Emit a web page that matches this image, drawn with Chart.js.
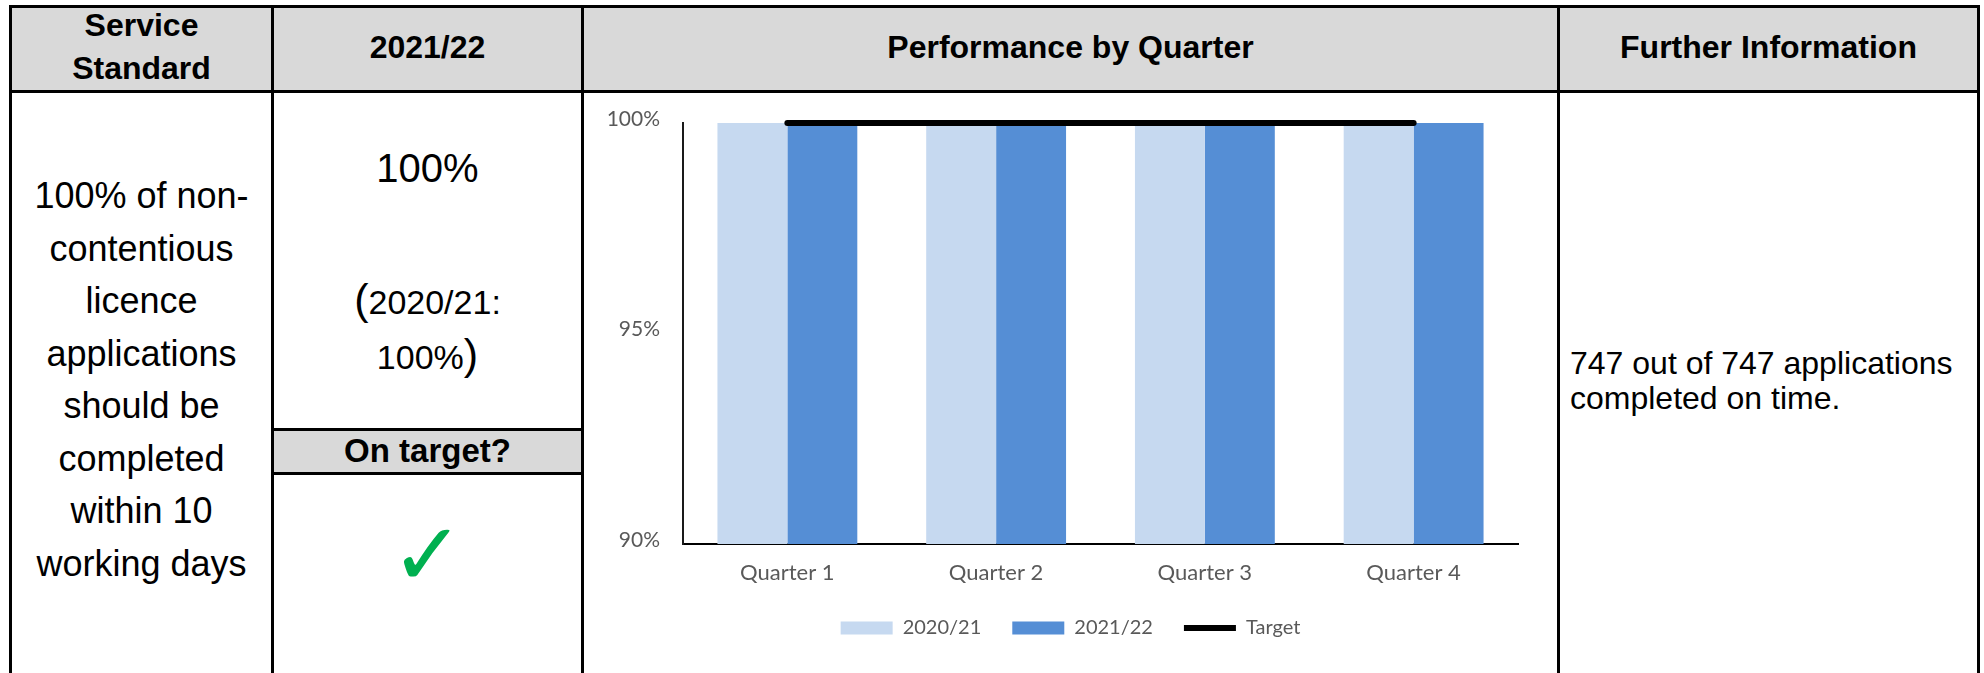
<!DOCTYPE html>
<html>
<head>
<meta charset="utf-8">
<script src="https://cdn.jsdelivr.net/npm/chart.js@4.4.1/dist/chart.umd.min.js"></script>
<style>
  html, body { margin:0; padding:0; background:#fff; width:1984px; height:673px; overflow:hidden;
    font-family:"Liberation Sans", Arial, sans-serif; color:#000; }
  .box  { position:absolute; }
  .hd   { background:#d9d9d9; }
  .ln   { position:absolute; background:#000; }
  .txt  { position:absolute; text-align:center; white-space:nowrap; }
  .bold { font-weight:bold; }
  .par  { font-size:43px; }
</style>
</head>
<body>

<!-- header band + "On target?" band -->
<div class="box hd" style="left:10px;top:7px;width:1968px;height:84px"></div>
<div class="box hd" style="left:272px;top:429px;width:310px;height:45px"></div>

<!-- table rules -->
<div class="ln" style="left:9px;top:5px;width:1971px;height:3px"></div>
<div class="ln" style="left:9px;top:90px;width:1971px;height:3px"></div>
<div class="ln" style="left:9px;top:5px;width:3px;height:668px"></div>
<div class="ln" style="left:271px;top:5px;width:3px;height:668px"></div>
<div class="ln" style="left:581px;top:5px;width:3px;height:668px"></div>
<div class="ln" style="left:1557px;top:5px;width:3px;height:668px"></div>
<div class="ln" style="left:1977px;top:5px;width:3px;height:668px"></div>
<div class="ln" style="left:271px;top:428px;width:312px;height:3px"></div>
<div class="ln" style="left:271px;top:472px;width:312px;height:3px"></div>

<!-- header texts -->
<div class="txt bold" style="left:12px;width:259px;top:4px;font-size:32px;line-height:43px">Service<br>Standard</div>
<div class="txt bold" style="left:274px;width:307px;top:27px;font-size:32px;line-height:40px">2021/22</div>
<div class="txt bold" style="left:584px;width:973px;top:27px;font-size:32px;line-height:40px">Performance by Quarter</div>
<div class="txt bold" style="left:1560px;width:417px;top:27px;font-size:32px;line-height:40px">Further Information</div>

<!-- body texts -->
<div class="txt" style="left:12px;width:259px;top:170px;font-size:36px;line-height:52.5px">100% of non-<br>contentious<br>licence<br>applications<br>should be<br>completed<br>within 10<br>working days</div>
<div class="txt" style="left:274px;width:307px;top:144px;font-size:40px;line-height:48px">100%</div>
<div class="txt" style="left:274px;width:307px;top:273px;font-size:34px;line-height:52px"><span class="par">(</span>2020/21:<br>100%<span class="par">)</span></div>
<div class="txt bold" style="left:274px;width:307px;top:431px;font-size:33px;line-height:40px">On target?</div>
<div class="txt" style="left:274px;width:307px;top:505px;font-size:88px;line-height:100px;color:#00b050;font-family:'DejaVu Sans'">&#10003;</div>
<div class="box" style="left:1570px;top:346px;font-size:32px;line-height:35px;white-space:nowrap">747 out of 747 applications<br>completed on time.</div>

<!-- chart -->
<div class="box" style="left:584px;top:93px;width:973px;height:580px">
  <canvas id="grafico" width="973" height="580"></canvas>
</div>

<script>
// ── datos ──
const quarters  = ['Quarter 1', 'Quarter 2', 'Quarter 3', 'Quarter 4'];
const perf2021  = [100, 100, 100, 100];   // 2020/21
const perf2122  = [100, 100, 100, 100];   // 2021/22
const target    = [100, 100, 100, 100];
const yTicks    = [90, 95, 100];

const C = { light:'#c6d9f0', dark:'#558ed5', line:'#000000', txt:'#595959' };
const FONT = 'Lato';

new Chart(document.getElementById('grafico'), {
  type: 'bar',
  data: {
    labels: quarters,
    datasets: [
      { label:'2020/21', data:perf2021, backgroundColor:C.light, borderWidth:0, order:1, clip:0, pointStyle:'rect' },
      { label:'2021/22', data:perf2122, backgroundColor:C.dark,  borderWidth:0, order:1, clip:0, pointStyle:'rect' },
      { type:'line', label:'Target', data:target, borderColor:C.line, borderWidth:6, borderCapStyle:'round',
        pointRadius:0, pointStyle:'line', pointBorderColor:C.line, pointBorderWidth:6, order:0, clip:false }
    ]
  },
  options: {
    responsive: false,
    devicePixelRatio: 1,
    animation: false,
    categoryPercentage: 0.67,
    barPercentage: 1.0,
    layout: { padding: { top:30, bottom:25, left:0, right:0 } },
    plugins: {
      tooltip: { enabled:false },
      legend: {
        position: 'bottom',
        labels: {
          usePointStyle: true, pointStyleWidth: 52, boxHeight: 13,
          padding: 31, color: C.txt, font: { family:FONT, size:20 },
          sort: (a, b) => a.datasetIndex - b.datasetIndex
        }
      }
    },
    scales: {
      x: {
        grid: { display:false, drawTicks:false },
        border: { display:true, color:'#000', width:2 },
        ticks: { color:C.txt, font:{ family:FONT, size:22 }, padding:16 },
        afterFit: s => { s.height = 43; }
      },
      y: {
        min: yTicks[0], max: yTicks[yTicks.length - 1],
        grid: { display:false, drawTicks:false },
        border: { display:true, color:'#1a1a1a', width:2 },
        ticks: { color:C.txt, font:{ family:FONT, size:21 }, padding:23, labelOffset:-4, callback: v => v + '%' },
        afterBuildTicks: s => { s.ticks = yTicks.map(v => ({ value:v })); },
        afterFit: s => { s.width = 99; s.paddingTop = 0; s.paddingBottom = 0; }
      },
      yR: {
        position: 'right', display: true,
        grid: { display:false, drawTicks:false }, border: { display:false }, ticks: { display:false },
        afterFit: s => { s.width = 39; s.paddingTop = 0; s.paddingBottom = 0; }
      }
    }
  }
});
</script>
</body>
</html>
